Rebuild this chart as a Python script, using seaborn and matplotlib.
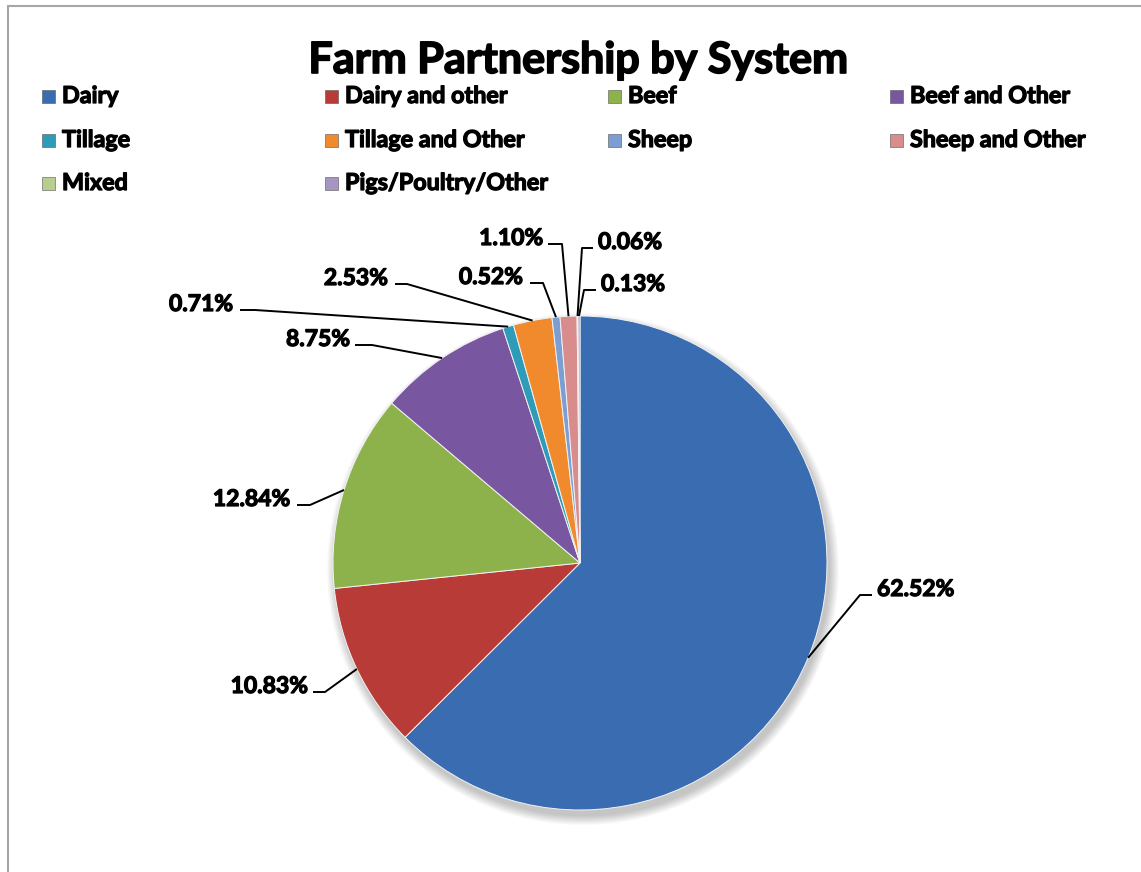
import numpy as np
import matplotlib
matplotlib.use("Agg")
import matplotlib.pyplot as plt
import matplotlib.patheffects as pe
import seaborn as sns
from matplotlib.patches import Rectangle, Circle
from matplotlib.lines import Line2D

# ---------------- data ----------------
categories = ["Dairy", "Dairy and other", "Beef", "Beef and Other", "Tillage",
              "Tillage and Other", "Sheep", "Sheep and Other", "Mixed",
              "Pigs/Poultry/Other"]
shares = [62.52, 10.83, 12.84, 8.75, 0.71, 2.53, 0.52, 1.10, 0.06, 0.13]
title = "Farm Partnership by System"

# ---------------- style ----------------
colors = ["#3A6CB1", "#B83B38", "#8DB24C", "#7856A0", "#2E9BB8",
          "#F08A2C", "#7D9ED3", "#D88C8B", "#B8CE8E", "#A796C2"]

sns.set_theme(style="white")
plt.rcParams['font.family'] = ['Lato', 'DejaVu Sans']
WEIGHT = "bold"
heavy = [pe.withStroke(linewidth=0.9, foreground="black")]

W, H = 1141, 872
fig = plt.figure(figsize=(W / 100, H / 100), dpi=100)
fig.patch.set_facecolor("white")

# pie placement (pixels)
cx, cy, R = 580, 563, 247
ax = fig.add_axes([(cx - R) / W, (H - cy - R) / H, 2 * R / W, 2 * R / H])

def to_data(px, py):
    return (px - cx) / R, (cy - py) / R

# soft drop shadow
for k in range(10):
    ax.add_patch(Circle((0.012, -0.025), 1.0 + 0.004 * k, facecolor="black",
                        edgecolor="none", alpha=0.025, zorder=0, clip_on=False))

wedges, _ = ax.pie(shares, colors=colors, startangle=90, counterclock=False,
                   radius=1.0,
                   wedgeprops=dict(edgecolor="#f2f2f2", linewidth=0.7, zorder=2,
                                   clip_on=False))
ax.set_xlim(-1, 1)
ax.set_ylim(-1, 1)
ax.axis("off")

# label layout: elbow point (px), horizontal end x (px), text x (px), alignment
layout = [
    ((860, 595), 872, 877, "left"),
    ((325, 692), 313, 308, "right"),
    ((310, 505), 297, 290, "right"),
    ((372, 345), 355, 350, "right"),
    ((255, 310), 240, 233, "right"),
    ((407, 284), 395, 388, "right"),
    ((543, 283), 530, 523, "right"),
    ((562, 244), 548, 543, "right"),
    ((582, 248), 593, 598, "left"),
    ((584, 290), 596, 601, "left"),
]

for w, v, (elbow, hx, tx, ha) in zip(wedges, shares, layout):
    mid = np.deg2rad((w.theta1 + w.theta2) / 2)
    x0, y0 = np.cos(mid) * w.r, np.sin(mid) * w.r
    ex, ey = to_data(*elbow)
    hxd, _ = to_data(hx, elbow[1])
    ax.plot([x0, ex, hxd], [y0, ey, ey], color="black", lw=1.4,
            clip_on=False, zorder=3, solid_capstyle="butt")
    txd, tyd = to_data(tx, elbow[1] + 1)
    ax.text(txd, tyd, f"{v:.2f}%", ha=ha, va="baseline", fontsize=16.5,
            fontweight=WEIGHT, color="black", clip_on=False, zorder=4,
            path_effects=heavy)

# title
fig.text(578 / W, 1 - 73 / H, title, ha="center", va="baseline",
         fontsize=31, fontweight=WEIGHT, color="black",
         path_effects=[pe.withStroke(linewidth=1.2, foreground="black")])

# legend (4 columns, Excel style)
col_x = [42, 325, 608, 890]
row_base = [103, 147, 190]
for i, (name, c) in enumerate(zip(categories, colors)):
    col, row = i % 4, i // 4
    mx, by = col_x[col], row_base[row]
    fig.add_artist(Rectangle((mx / W, 1 - by / H), 13 / W, 13 / H,
                             transform=fig.transFigure, facecolor=c,
                             edgecolor="#555555", linewidth=0.4))
    fig.text((mx + 20) / W, 1 - by / H, name, ha="left", va="baseline",
             fontsize=16.8, fontweight=WEIGHT, color="black",
             path_effects=heavy)

# chart frame
fig.add_artist(Line2D([8 / W, 8 / W], [0, 1 - 6 / H], color="#a6a6a6", lw=1.5,
                      transform=fig.transFigure))
fig.add_artist(Line2D([8 / W, 1], [1 - 6 / H, 1 - 6 / H], color="#a6a6a6", lw=1.5,
                      transform=fig.transFigure))

fig.savefig("out.png", dpi=100, facecolor="white")
